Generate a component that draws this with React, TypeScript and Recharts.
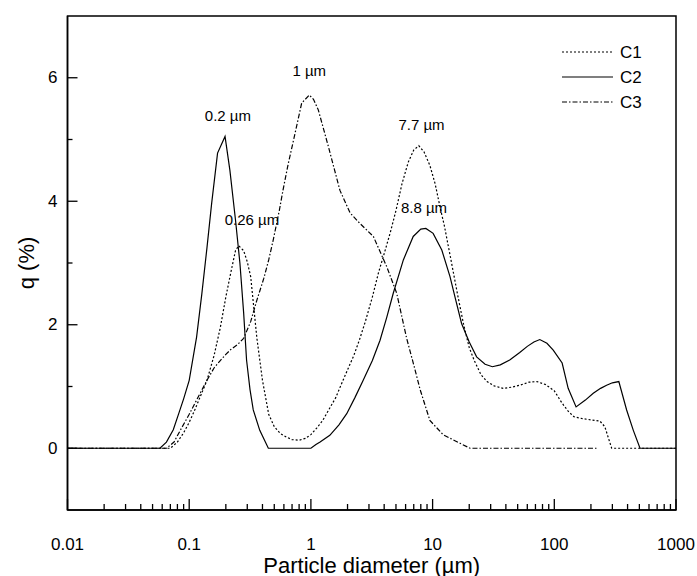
import React from 'react';
import { LineChart, Line, XAxis, YAxis, ReferenceArea, ReferenceDot, Customized, Label } from 'recharts';

// ---- Data ----
const C1_X = [0.01, 0.07, 0.08, 0.09, 0.1, 0.11, 0.12, 0.14, 0.16, 0.18, 0.2, 0.22, 0.24, 0.255, 0.28, 0.3, 0.32, 0.36, 0.4, 0.45, 0.5, 0.56, 0.63, 0.7, 0.8, 0.9, 1.0, 1.12, 1.25, 1.4, 1.6, 1.8, 2.0, 2.25, 2.5, 2.8, 3.2, 3.6, 4.0, 4.5, 5.0, 5.6, 6.3, 7.0, 7.7, 8.5, 9.5, 10.5, 11.5, 12.5, 14, 16, 18, 20, 22, 25, 28, 32, 38, 45, 52, 62, 72, 85, 100, 115, 130, 145, 170, 200, 237, 260, 280, 296, 1000];
const C1_Y = [0, 0, 0.1, 0.25, 0.42, 0.6, 0.78, 1.1, 1.5, 1.95, 2.45, 2.85, 3.2, 3.28, 3.2, 3.02, 2.78, 1.78, 1.1, 0.55, 0.35, 0.24, 0.18, 0.14, 0.13, 0.16, 0.22, 0.33, 0.45, 0.62, 0.82, 1.06, 1.27, 1.5, 1.75, 2.05, 2.45, 2.85, 3.15, 3.5, 3.85, 4.28, 4.63, 4.83, 4.9, 4.8, 4.58, 4.28, 3.91, 3.6, 3.1, 2.5, 2.0, 1.63, 1.42, 1.19, 1.08, 1.01, 0.97, 0.99, 1.02, 1.07, 1.08, 1.03, 0.93, 0.74, 0.6, 0.51, 0.48, 0.46, 0.44, 0.35, 0.15, 0, 0];

const C2_X = [0.01, 0.0575, 0.065, 0.074, 0.082, 0.09, 0.1, 0.115, 0.127, 0.14, 0.153, 0.171, 0.197, 0.216, 0.24, 0.261, 0.28, 0.296, 0.316, 0.336, 0.38, 0.447, 1.0, 1.1, 1.19, 1.43, 1.7, 1.97, 2.3, 2.69, 3.2, 3.7, 4.2, 4.75, 5.75, 6.93, 8.0, 8.8, 10.1, 11.9, 13.9, 15.5, 17.3, 20, 23, 27, 31, 36, 43, 52, 60, 68, 76, 87, 98, 116, 130, 151, 180, 209, 240, 269, 300, 339, 393, 446, 506, 1000];
const C2_Y = [0, 0, 0.1, 0.3, 0.56, 0.8, 1.1, 1.8, 2.5, 3.25, 3.97, 4.78, 5.05, 4.5, 3.7, 3.0, 2.2, 1.43, 0.95, 0.62, 0.29, 0, 0, 0.06, 0.1, 0.21, 0.38, 0.56, 0.82, 1.1, 1.42, 1.75, 2.12, 2.51, 3.05, 3.43, 3.55, 3.56, 3.48, 3.21, 2.78, 2.4, 2.02, 1.72, 1.48, 1.36, 1.32, 1.35, 1.43, 1.55, 1.65, 1.72, 1.76, 1.7, 1.59, 1.38, 0.97, 0.67, 0.78, 0.89, 0.97, 1.02, 1.06, 1.08, 0.62, 0.29, 0, 0];

const C3_X = [0.01, 0.065, 0.075, 0.085, 0.1, 0.12, 0.14, 0.16, 0.18, 0.2, 0.22, 0.25, 0.28, 0.32, 0.36, 0.41, 0.45, 0.49, 0.55, 0.59, 0.65, 0.72, 0.84, 0.97, 1.05, 1.15, 1.39, 1.73, 2.1, 2.53, 3.26, 4.2, 5.07, 6.12, 7.0, 7.9, 9.5, 12.2, 16.8, 20.3, 230];
const C3_Y = [0, 0, 0.1, 0.3, 0.55, 0.85, 1.1, 1.3, 1.42, 1.52, 1.6, 1.68, 1.78, 2.05, 2.4, 2.75, 3.05, 3.37, 3.85, 4.18, 4.6, 4.99, 5.59, 5.72, 5.65, 5.48, 4.89, 4.18, 3.81, 3.64, 3.43, 2.94, 2.51, 1.78, 1.35, 0.95, 0.45, 0.22, 0.08, 0, 0];

const SERIES_NAMES = ['C1', 'C2', 'C3'];

const X_MAJOR_TICKS = [0.01, 0.1, 1, 10, 100, 1000];
const X_TICK_LABELS = ['0.01', '0.1', '1', '10', '100', '1000'];
const X_MINOR_MULTIPLIERS = [2, 3, 4, 5, 6, 7, 8, 9];

const Y_TICKS = [0, 1, 2, 3, 4, 5, 6];
const Y_LABELED = [0, 2, 4, 6];

const PEAK_X = [0.97, 0.208, 0.328, 8.1, 8.5];
const PEAK_Y = [6.12, 5.39, 3.7, 5.25, 3.9];
const PEAK_TEXT = ['1 µm', '0.2 µm', '0.26 µm', '7.7 µm', '8.8 µm'];

// ---- Derived tables ----
const toPoints = (xs: number[], ys: number[]) => xs.map((x, i) => ({ x, y: ys[i] }));
const c1 = toPoints(C1_X, C1_Y);
const c2 = toPoints(C2_X, C2_Y);
const c3 = toPoints(C3_X, C3_Y);

const xMinor = X_MAJOR_TICKS.slice(0, -1).flatMap((d) => X_MINOR_MULTIPLIERS.map((m) => +(m * d).toPrecision(6)));
const xTicks = [...X_MAJOR_TICKS, ...xMinor].sort((a, b) => a - b);

const FONT = '"Liberation Sans", Arial, sans-serif';

const XTick = (props: any) => {
  const { x, y, payload } = props;
  const idx = X_MAJOR_TICKS.findIndex((t) => Math.abs(t - payload.value) / t < 1e-6);
  const major = idx >= 0;
  return (
    <g>
      <line x1={x} x2={x} y1={y} y2={y - (major ? 11 : 6)} stroke="#000" strokeWidth={1.3} />
      {major && (
        <text x={x} y={y + 34} textAnchor="middle" dominantBaseline="central" fontSize={17} fontFamily={FONT} fill="#000">
          {X_TICK_LABELS[idx]}
        </text>
      )}
    </g>
  );
};

const YTick = (props: any) => {
  const { x, y, payload } = props;
  const major = Y_LABELED.includes(payload.value);
  return (
    <g>
      <line x1={x} x2={x + (major ? 10 : 5)} y1={y} y2={y} stroke="#000" strokeWidth={1.3} />
      {major && (
        <text x={x - 10} y={y} textAnchor="end" dominantBaseline="central" fontSize={17} fontFamily={FONT} fill="#000">
          {payload.value}
        </text>
      )}
    </g>
  );
};

const LEGEND_DASH = ['2 2', undefined, '5 2 1.5 2'];

const LegendBox = () => (
  <g>
    {SERIES_NAMES.map((name, i) => {
      const y = 52 + i * 25;
      return (
        <g key={name}>
          <line x1={562} x2={613} y1={y} y2={y} stroke="#000" strokeWidth={1.2} strokeDasharray={LEGEND_DASH[i]} />
          <text x={620} y={y} dominantBaseline="central" fontSize={17} fontFamily={FONT} fill="#000">
            {name}
          </text>
        </g>
      );
    })}
  </g>
);

export default function App() {
  return (
    <div style={{ position: 'absolute', left: 0, top: 0, background: '#fff' }}>
      <LineChart width={697} height={576} margin={{ top: 16, right: 21, bottom: 0, left: 0.5 }}>
        <XAxis
          dataKey="x"
          type="number"
          scale="log"
          domain={[0.01, 1000]}
          allowDataOverflow
          ticks={xTicks}
          interval={0}
          tick={<XTick />}
          tickSize={0}
          tickMargin={0}
          tickLine={false}
          axisLine={{ stroke: '#000', strokeWidth: 1.5 }}
          height={66}
        >
          <Label
            content={(p: any) => {
              const vb = p.viewBox || { x: 67.5, y: 510, width: 608.5, height: 66 };
              return (
                <text x={vb.x + vb.width / 2} y={vb.y + 55} textAnchor="middle" dominantBaseline="central" fontSize={22} fontFamily={FONT} fill="#000">
                  Particle diameter (µm)
                </text>
              );
            }}
          />
        </XAxis>
        <YAxis
          type="number"
          domain={[-1, 7]}
          allowDataOverflow
          ticks={Y_TICKS}
          interval={0}
          tick={<YTick />}
          tickSize={0}
          tickMargin={0}
          tickLine={false}
          axisLine={{ stroke: '#000', strokeWidth: 1.5 }}
          width={67}
        >
          <Label
            content={(p: any) => {
              const vb = p.viewBox || { x: 0.5, y: 16, width: 67, height: 494 };
              const cx = 26;
              const cy = vb.y + vb.height / 2;
              return (
                <text x={cx} y={cy} transform={`rotate(-90 ${cx} ${cy})`} textAnchor="middle" dominantBaseline="central" fontSize={22} fontFamily={FONT} fill="#000">
                  q (%)
                </text>
              );
            }}
          />
        </YAxis>
        <ReferenceArea x1={0.01} x2={1000} y1={-1} y2={7} fill="none" stroke="#000" strokeWidth={1.5} ifOverflow="visible" />
        <Line data={c1} dataKey="y" name="C1" type="linear" stroke="#000" strokeWidth={1.2} strokeDasharray="2 2" dot={false} isAnimationActive={false} />
        <Line data={c2} dataKey="y" name="C2" type="linear" stroke="#000" strokeWidth={1.2} dot={false} isAnimationActive={false} />
        <Line data={c3} dataKey="y" name="C3" type="linear" stroke="#000" strokeWidth={1.2} strokeDasharray="5 2 1.5 2" dot={false} isAnimationActive={false} />
        {PEAK_TEXT.map((t, i) => (
          <ReferenceDot
            key={t}
            x={PEAK_X[i]}
            y={PEAK_Y[i]}
            ifOverflow="visible"
            shape={(p: any) => (
              <text x={p.cx} y={p.cy} textAnchor="middle" dominantBaseline="central" fontSize={15} fontFamily={FONT} fill="#000">
                {t}
              </text>
            )}
          />
        ))}
        <Customized component={LegendBox} />
      </LineChart>
    </div>
  );
}
